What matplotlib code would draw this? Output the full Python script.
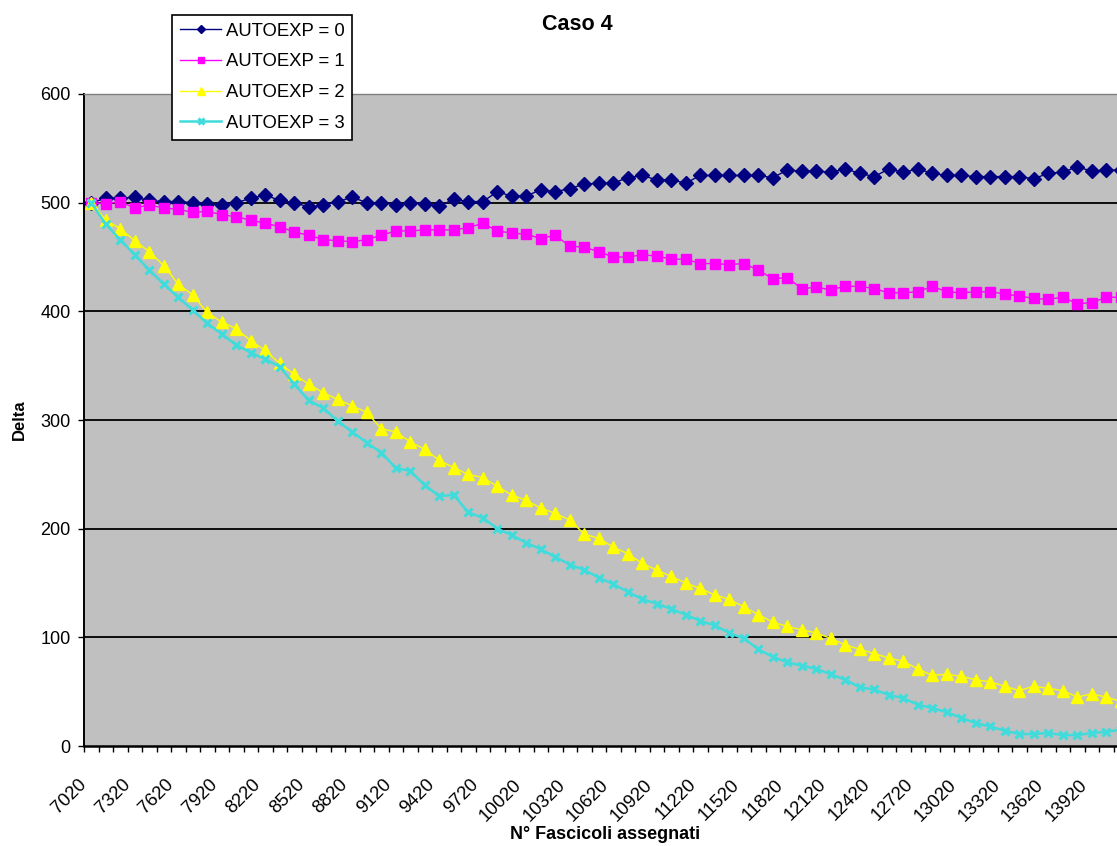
import matplotlib
matplotlib.use("Agg")
import matplotlib.pyplot as plt
import matplotlib.transforms as mtransforms
import numpy as np

plt.rcParams['font.family'] = ['Liberation Sans', 'DejaVu Sans']

# Category axis: number of assigned bundles
categories = list(range(7020, 14121, 100))

delta_autoexp0 = [500, 504, 504, 505, 502, 501, 501, 500, 499, 498,
                  500, 504, 507, 502, 500, 496, 498, 501, 505, 500,
                  500, 498, 500, 499, 497, 503, 501, 501, 510, 506,
                  506, 512, 510, 513, 517, 518, 518, 523, 525, 521,
                  521, 518, 525, 525, 525, 525, 525, 523, 530, 529,
                  529, 528, 531, 527, 524, 531, 528, 531, 527, 525,
                  525, 524, 524, 524, 524, 522, 527, 528, 533, 529,
                  530, 530]

delta_autoexp1 = [500, 499, 501, 495, 498, 495, 494, 491, 492, 489,
                  487, 484, 481, 478, 473, 470, 466, 465, 464, 466,
                  470, 474, 474, 475, 475, 475, 477, 481, 474, 472,
                  471, 467, 470, 460, 459, 455, 450, 450, 452, 451,
                  448, 448, 444, 444, 443, 444, 438, 430, 431, 421,
                  422, 420, 423, 423, 421, 417, 417, 418, 423, 418,
                  417, 418, 418, 416, 414, 412, 411, 413, 407, 408,
                  413, 413]

delta_autoexp2 = [500, 484, 476, 465, 455, 442, 425, 415, 399, 390,
                  384, 373, 364, 352, 342, 333, 325, 319, 313, 307,
                  292, 289, 280, 273, 263, 256, 250, 247, 239, 231,
                  226, 219, 214, 208, 195, 191, 183, 177, 168, 162,
                  156, 150, 145, 139, 135, 128, 121, 114, 110, 107,
                  104, 99, 93, 89, 85, 81, 78, 71, 65, 66,
                  64, 61, 59, 55, 51, 55, 53, 51, 45, 48,
                  45, 41]

delta_autoexp3 = [500, 480, 466, 452, 438, 425, 413, 401, 389, 379,
                  369, 362, 356, 349, 333, 318, 311, 299, 289, 279,
                  270, 256, 253, 240, 230, 231, 215, 210, 200, 194,
                  187, 181, 174, 167, 162, 155, 149, 142, 135, 131,
                  126, 121, 115, 111, 104, 99, 89, 82, 77, 74,
                  71, 66, 61, 54, 52, 47, 44, 38, 35, 31,
                  26, 21, 18, 14, 11, 11, 12, 10, 10, 12,
                  13, 15]

series_labels = ['AUTOEXP = 0', 'AUTOEXP = 1', 'AUTOEXP = 2', 'AUTOEXP = 3']
y_ticks = [0, 100, 200, 300, 400, 500, 600]

W, H = 1117, 846
fig = plt.figure(figsize=(W / 100, H / 100), dpi=100)
fig.patch.set_facecolor('white')

# plot area in pixel units (the last category column runs past the right edge)
left, top, bottom = 84, 94, 746
col_w = 14.5
n = len(categories)
ax = fig.add_axes([left / W, (H - bottom) / H, n * col_w / W, (bottom - top) / H])
ax.set_facecolor('#C0C0C0')

x = np.arange(n)
styles = [
    dict(color='#000080', marker='D', markersize=7, lw=1.0),
    dict(color='#FF00FF', marker='s', markersize=7.5, lw=1.0),
    dict(color='#FFFF00', marker='^', markersize=8.5, lw=1.0),
    dict(color='#40DCDC', marker='x', markersize=6, mew=2.2, lw=1.8),
]
series = [delta_autoexp0, delta_autoexp1, delta_autoexp2, delta_autoexp3]
handles = []
for vals, lab, st in zip(series, series_labels, styles):
    h, = ax.plot(x, vals, label=lab, clip_on=True, zorder=3, **st)
    handles.append(h)

ax.set_xlim(-0.5, n - 0.5)
ax.set_ylim(y_ticks[0], y_ticks[-1])

# horizontal gridlines
for yv in y_ticks[1:-1]:
    ax.axhline(yv, color='black', lw=1.3, zorder=1)

ax.spines['right'].set_visible(False)
ax.spines['top'].set_color('#808080')
ax.spines['top'].set_linewidth(1.0)
ax.spines['left'].set_color('black')
ax.spines['left'].set_linewidth(1.4)
ax.spines['bottom'].set_color('black')
ax.spines['bottom'].set_linewidth(1.8)

# y axis
ax.set_yticks(y_ticks)
ax.set_yticklabels([str(v) for v in y_ticks])
ax.tick_params(axis='y', direction='out', length=4.5, width=1.0, pad=5,
               labelsize=13, colors='black')

# x axis: tick marks between categories, labels every third category
ax.set_xticks(np.arange(n + 1) - 0.5)
ax.set_xticklabels([])
ax.tick_params(axis='x', which='major', direction='out', length=4.5, width=1.0)
lab_pos = x[::3]
ax.set_xticks(lab_pos, minor=True)
ax.set_xticklabels([str(categories[i]) for i in lab_pos], minor=True,
                   rotation=45, ha='right', va='center', rotation_mode='anchor',
                   fontsize=13.3)
ax.tick_params(axis='x', which='minor', length=0, pad=26)
shift = mtransforms.ScaledTranslation(-7 / 100, 0, fig.dpi_scale_trans)
for lbl in ax.get_xticklabels(minor=True):
    lbl.set_transform(lbl.get_transform() + shift)

fig.text(577 / W, 1 - 25 / H, 'Caso 4', ha='center', va='center',
         fontsize=15.5, fontweight='bold')
fig.text(605 / W, 1 - 834 / H, 'N° Fascicoli assegnati', ha='center', va='center',
         fontsize=13, fontweight='bold')
fig.text(19 / W, 1 - 420 / H, 'Delta', ha='center', va='center', rotation=90,
         fontsize=12, fontweight='bold')

leg = fig.legend(handles=handles, loc='upper left',
                 bbox_to_anchor=(172 / W, 1 - 15 / H), frameon=True,
                 fancybox=False, edgecolor='black', facecolor='white',
                 framealpha=1, borderaxespad=0, fontsize=13.3,
                 handlelength=2.25, handletextpad=0.25, labelspacing=0.74,
                 borderpad=0.42, markerscale=0.65)
leg.get_frame().set_linewidth(1.2)

fig.savefig('out.png', dpi=100, facecolor='white')
